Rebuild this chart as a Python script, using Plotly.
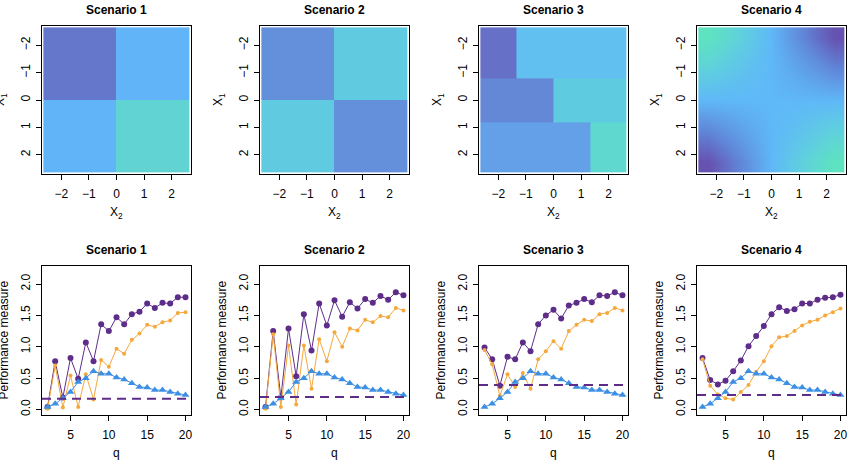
import plotly.graph_objects as go

W, H = 854, 468

# ---------------- data ----------------
q = list(range(2, 21))

blue_all = [0.04, 0.09, 0.18, 0.28, 0.44, 0.50, 0.61, 0.57, 0.57, 0.51, 0.48,
            0.42, 0.36, 0.35, 0.31, 0.31, 0.28, 0.25, 0.23]

purple_s1 = [0.04, 0.77, 0.19, 0.82, 0.49, 1.07, 0.77, 1.36, 1.25, 1.47, 1.36,
             1.52, 1.56, 1.69, 1.62, 1.70, 1.69, 1.79, 1.79]
orange_s1 = [0.01, 0.70, 0.03, 0.54, 0.04, 0.56, 0.16, 0.79, 0.68, 0.97, 0.89,
             1.11, 1.21, 1.35, 1.32, 1.39, 1.42, 1.54, 1.55]

purple_s2 = [0.04, 1.25, 0.19, 1.29, 0.53, 1.52, 0.94, 1.69, 1.34, 1.74, 1.48,
             1.71, 1.61, 1.76, 1.70, 1.81, 1.75, 1.87, 1.82]
orange_s2 = [0.01, 1.20, 0.04, 1.02, 0.08, 1.02, 0.33, 1.12, 0.77, 1.23, 1.00,
             1.29, 1.26, 1.43, 1.39, 1.49, 1.47, 1.62, 1.58]

purple_s3 = [0.99, 0.80, 0.38, 0.84, 0.80, 1.07, 0.93, 1.36, 1.50, 1.59, 1.45,
             1.66, 1.70, 1.76, 1.71, 1.82, 1.81, 1.87, 1.82]
orange_s3 = [0.95, 0.72, 0.22, 0.56, 0.36, 0.58, 0.33, 0.80, 0.93, 1.09, 0.97,
             1.25, 1.35, 1.43, 1.41, 1.52, 1.54, 1.62, 1.58]

purple_s4 = [0.82, 0.47, 0.40, 0.46, 0.61, 0.78, 1.01, 1.17, 1.33, 1.52, 1.63,
             1.57, 1.60, 1.69, 1.69, 1.75, 1.78, 1.79, 1.83]
orange_s4 = [0.80, 0.38, 0.24, 0.18, 0.16, 0.28, 0.39, 0.60, 0.77, 1.01, 1.15,
             1.17, 1.25, 1.34, 1.40, 1.43, 1.50, 1.55, 1.61]

baseline = [0.17, 0.20, 0.39, 0.23]

purples = [purple_s1, purple_s2, purple_s3, purple_s4]
oranges = [orange_s1, orange_s2, orange_s3, orange_s4]
titles = ["Scenario 1", "Scenario 2", "Scenario 3", "Scenario 4"]

# heatmap grids (cell edges in X2 / X1 units, and cell class values)
hm1_x = [-2.65, 0.0, 2.65]
hm1_y = [-2.65, 0.0, 2.65]
hm1_z = [[0, 1], [1, 2]]
hm1_colors = ["#6577CB", "#62B4F9", "#60D3D2"]

hm2_x = [-2.65, 0.0, 2.65]
hm2_y = [-2.65, 0.0, 2.65]
hm2_z = [[0, 1], [1, 0]]
hm2_colors = ["#648FDA", "#60CBE0"]

hm3_x = [-2.65, -1.33, 0.0, 1.33, 2.65]
hm3_y = [-2.65, -0.8, 0.8, 2.65]
hm3_z = [[0, 1, 1, 1], [2, 2, 3, 3], [4, 4, 4, 5]]
hm3_colors = ["#6670C6", "#62C0F0", "#6488D6", "#5FCBE0", "#63A0E7", "#5FD8D0"]

hm4_x = [-2.27, -1.51, -0.76, 0.0, 0.76, 1.51, 2.27]
hm4_y = [-2.27, -1.51, -0.76, 0.0, 0.76, 1.51, 2.27]
hm4_z = [
    [1.00, 0.72, 0.38, 0.0, -0.35, -0.68, -1.00],
    [0.72, 0.48, 0.24, 0.0, -0.22, -0.45, -0.68],
    [0.38, 0.24, 0.10, 0.0, -0.10, -0.22, -0.35],
    [0.00, 0.00, 0.00, 0.0, 0.00, 0.00, 0.00],
    [-0.35, -0.22, -0.10, 0.0, 0.10, 0.24, 0.38],
    [-0.68, -0.45, -0.22, 0.0, 0.24, 0.48, 0.72],
    [-1.00, -0.68, -0.35, 0.0, 0.38, 0.72, 1.00],
]
hm4_colors = ["#6652B0", "#6088DA", "#5FB8F8", "#5FCFE0", "#5EE3C0"]

xtick_hm = [-2, -1, 0, 1, 2]
xtick_q = [5, 10, 15, 20]
ytick_perf = [0.0, 0.5, 1.0, 1.5, 2.0]

# ---------------- styles / layout ----------------
FONT = "Liberation Sans, Arial, Helvetica, sans-serif"
PURPLE = "#5E2D8A"
ORANGE = "#F5A83C"
BLUE = "#3C8FE3"

lefts = [42, 260, 479, 697]
pw = 149
top_row = (26, 174)
bot_row = (266, 415)


def dom_x(l):
    return [l / W, (l + pw) / W]


def dom_y(r):
    return [1 - r[1] / H, 1 - r[0] / H]


def discrete_scale(cols):
    n = len(cols)
    return [[i / (n - 1), c] for i, c in enumerate(cols)]


fig = go.Figure()

heat = [
    (hm1_x, hm1_y, hm1_z, hm1_colors, False),
    (hm2_x, hm2_y, hm2_z, hm2_colors, False),
    (hm3_x, hm3_y, hm3_z, hm3_colors, False),
    (hm4_x, hm4_y, hm4_z, hm4_colors, True),
]

for i, (hx, hy, hz, hc, smooth) in enumerate(heat):
    ax = "" if i == 0 else str(i + 1)
    kw = dict(x=hx, y=hy, z=hz, colorscale=discrete_scale(hc), showscale=False,
              xaxis="x" + ax, yaxis="y" + ax, hoverinfo="skip")
    if smooth:
        kw.update(zsmooth="best", zmin=-1, zmax=1)
    else:
        kw.update(zmin=0, zmax=len(hc) - 1)
    fig.add_trace(go.Heatmap(**kw))

for i in range(4):
    ax = str(i + 5)
    fig.add_trace(go.Scatter(x=q, y=purples[i], mode="lines+markers",
                             line=dict(color=PURPLE, width=1),
                             marker=dict(color=PURPLE, size=6, symbol="circle"),
                             xaxis="x" + ax, yaxis="y" + ax, showlegend=False))
    fig.add_trace(go.Scatter(x=q, y=oranges[i], mode="lines+markers",
                             line=dict(color=ORANGE, width=1),
                             marker=dict(color=ORANGE, size=4, symbol="circle"),
                             xaxis="x" + ax, yaxis="y" + ax, showlegend=False))
    fig.add_trace(go.Scatter(x=q, y=blue_all, mode="lines+markers",
                             line=dict(color=BLUE, width=1),
                             marker=dict(color=BLUE, size=7, symbol="triangle-up"),
                             xaxis="x" + ax, yaxis="y" + ax, showlegend=False))
    fig.add_shape(type="line", xref="x" + ax + " domain", yref="y" + ax,
                  x0=0, x1=1, y0=baseline[i], y1=baseline[i],
                  line=dict(color=PURPLE, width=2, dash="9px,6px"))

axis_common = dict(showline=True, mirror=True, linecolor="black", linewidth=1,
                   ticks="outside", ticklen=5, tickcolor="black", tickwidth=1,
                   showgrid=False, zeroline=False,
                   tickfont=dict(family=FONT, size=12, color="black"))

layout = dict(width=W, height=H, margin=dict(l=0, r=0, t=0, b=0),
              paper_bgcolor="white", plot_bgcolor="white", showlegend=False,
              font=dict(family=FONT, size=12, color="black"))

for i in range(4):
    ax = "" if i == 0 else str(i + 1)
    layout["xaxis" + ax] = dict(axis_common, domain=dom_x(lefts[i]), range=[-2.7, 2.7],
                                tickvals=xtick_hm, anchor="y" + ax, ticklabelstandoff=4)
    layout["yaxis" + ax] = dict(axis_common, domain=dom_y(top_row), range=[2.7, -2.7],
                                tickvals=xtick_hm, tickangle=-90, anchor="x" + ax,
                                ticklabelstandoff=1)
    bx = str(i + 5)
    layout["xaxis" + bx] = dict(axis_common, domain=dom_x(lefts[i]), range=[1.28, 20.72],
                                tickvals=xtick_q, anchor="y" + bx, ticklabelstandoff=4)
    layout["yaxis" + bx] = dict(axis_common, domain=dom_y(bot_row), range=[-0.088, 2.288],
                                tickvals=ytick_perf,
                                ticktext=["%.1f" % v for v in ytick_perf],
                                tickangle=-90, anchor="x" + bx, ticklabelstandoff=1)

ann = []
for i in range(4):
    cx = (lefts[i] + pw / 2) / W
    ann.append(dict(text="<b>%s</b>" % titles[i], x=cx, y=1 - 10 / H, xref="paper", yref="paper",
                    showarrow=False, font=dict(size=12), xanchor="center", yanchor="middle"))
    ann.append(dict(text="<b>%s</b>" % titles[i], x=cx, y=1 - 250 / H, xref="paper", yref="paper",
                    showarrow=False, font=dict(size=12), xanchor="center", yanchor="middle"))
    ann.append(dict(text="X<sub>2</sub>", x=cx, y=1 - 213 / H, xref="paper", yref="paper",
                    showarrow=False, font=dict(size=12), xanchor="center", yanchor="middle"))
    ann.append(dict(text="q", x=cx, y=1 - 453 / H, xref="paper", yref="paper",
                    showarrow=False, font=dict(size=12), xanchor="center", yanchor="middle"))
    ann.append(dict(text="X<sub>1</sub>", x=(lefts[i] - 41) / W,
                    y=1 - (top_row[0] + top_row[1]) / 2 / H, xref="paper", yref="paper",
                    showarrow=False, font=dict(size=12), textangle=-90,
                    xanchor="center", yanchor="middle"))
    ann.append(dict(text="Performance measure", x=(lefts[i] - 39) / W,
                    y=1 - (bot_row[0] + bot_row[1]) / 2 / H, xref="paper", yref="paper",
                    showarrow=False, font=dict(size=12), textangle=-90,
                    xanchor="center", yanchor="middle"))
layout["annotations"] = ann

fig.update_layout(**layout)
fig.write_html("out.html")
